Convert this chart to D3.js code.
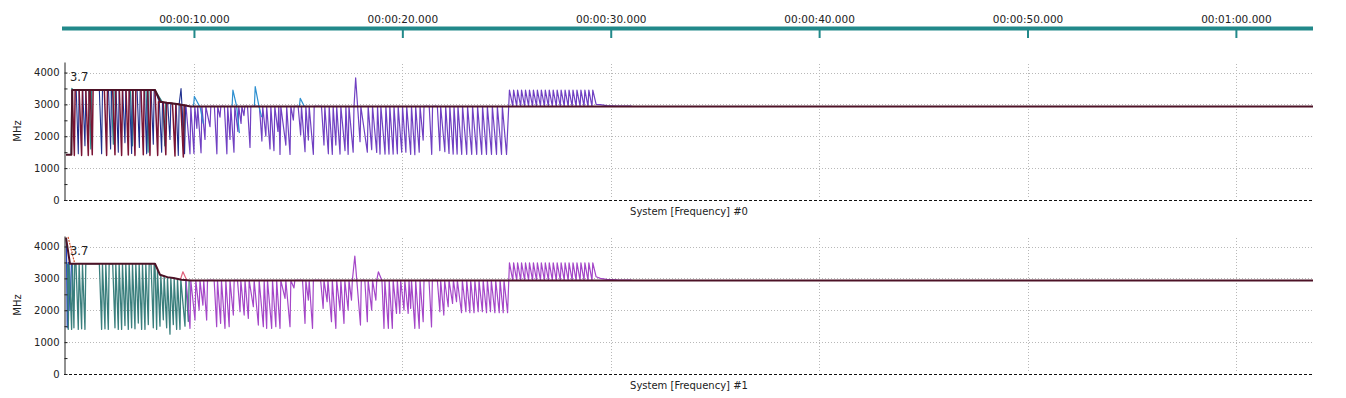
<!DOCTYPE html>
<html lang="en">
<head>
<meta charset="utf-8">
<script src="https://cdn.jsdelivr.net/npm/d3@7"></script>
<style>
  body { margin: 0; background: #fff; }
  text { font-family: "DejaVu Sans", Tahoma, sans-serif; fill: #222; }
</style>
</head>
<body>
<script>

// time range of the recording (seconds) and axis ticks
var tStart = 3.86, tEnd = 63.7;
var timeTicks = [10, 20, 30, 40, 50, 60];
var freqTicks = [0, 500, 1000, 1500, 2000, 2500, 3000, 3500, 4000];
var freqGrid = [1000, 2000, 3000, 4000];
var freqMax = 4330;
var startLabel = "3.7";
var unitLabel = "MHz";
var panelTitles = ["System [Frequency] #0", "System [Frequency] #1"];

// ---- panel #0 ----
var p0Max = [[3.86,1420],[4.12,1420],[4.16,3450],[8.13,3450],[8.40,3080],[8.70,3050],[9.10,3020],[9.45,2980],[9.85,2935],[63.70,2930]];

var p0Teal = [[4.10,1420],[4.14,3500],[4.20,3450],[4.95,3450],[5.05,1600],[5.09,3450],[6.03,3450],[6.13,1750],[6.17,3450],[6.95,3450],[7.05,1700],[7.09,3450],[7.70,3450],[7.80,1500],[7.84,3450],[8.13,3450],[8.50,3060],[8.60,1700],[8.64,3050],[9.40,2990],[9.52,1650],[9.56,2970]];

var p0Navy = [[4.35,3450],[4.45,1450],[4.49,3450],[4.66,3450],[4.77,1700],[4.81,3450],[5.46,3450],[5.57,1450],[5.61,3450],[5.90,3450],[6.00,1600],[6.04,3450],[6.26,3450],[6.37,1500],[6.41,3450],[6.58,3450],[6.69,1800],[6.73,3450],[6.90,3450],[7.01,1460],[7.05,3450],[7.27,3450],[7.38,1650],[7.42,3450],[7.62,3450],[7.73,1450],[7.77,3450],[7.94,3450],[8.05,1750],[8.09,3450],[8.13,3450],[8.34,3070],[8.45,1500],[8.49,3060],[8.74,3040],[8.85,1900],[8.89,3035],[9.14,3020],[9.25,1400],[9.29,3000],[9.38,3500],[9.55,1450],[9.60,2960]];

var p0Red = [[4.16,3450],[4.26,1400],[4.30,3450],[4.49,3450],[4.61,1400],[4.65,3450],[4.81,3450],[4.93,1400],[4.97,3450],[5.02,3450],[5.12,1420],[5.16,3450],[5.70,3450],[5.81,1400],[5.85,3450],[6.10,3450],[6.21,1420],[6.25,3450],[6.42,3450],[6.53,1400],[6.57,3450],[6.74,3450],[6.85,1410],[6.89,3450],[7.06,3450],[7.17,1400],[7.21,3450],[7.46,3450],[7.57,1420],[7.61,3450],[7.78,3450],[7.89,1400],[7.93,3450],[8.13,3450],[8.26,1400],[8.30,3080],[8.53,3060],[8.65,1420],[8.69,3050],[8.97,3030],[9.09,1380],[9.13,3020],[9.37,2990],[9.49,1350],[9.53,2980],[9.60,2970]];

var p0Purple = [[9.62,2935],[9.81,1450],[9.85,2935],[10.00,1460],[10.04,2935],[10.14,2250],[10.18,2935],[10.34,1480],[10.38,2935],[10.53,1900],[10.57,2935],[10.77,2300],[10.81,2935],[10.98,2935],[11.10,1450],[11.14,2935],[11.25,2600],[11.29,2935],[11.46,2935],[11.58,1450],[11.62,2935],[11.73,1900],[11.77,2935],[11.92,1500],[11.96,2935],[12.11,2150],[12.15,2935],[12.26,2400],[12.30,2935],[12.40,2650],[12.44,2935],[12.57,2935],[12.69,1650],[12.73,2935],[13.14,2935],[13.26,1850],[13.30,2935],[13.45,2000],[13.49,2935],[13.65,1600],[13.69,2935],[13.84,1550],[13.88,2935],[14.03,2150],[14.07,2935],[14.13,1430],[14.17,2935],[14.41,1724],[14.45,2935],[14.61,1430],[14.65,2935],[14.77,2508],[14.81,2935],[15.00,2935],[15.12,2038],[15.16,2935],[15.33,1515],[15.37,2935],[15.49,1881],[15.53,2935],[15.73,1432],[15.77,2935],[16.12,2935],[16.24,1724],[16.28,2935],[16.45,1450],[16.49,2935],[16.64,1432],[16.68,2935],[16.81,1724],[16.85,2935],[17.01,1440],[17.05,2935],[17.25,1550],[17.29,2935],[17.40,1432],[17.44,2935],[17.64,1500],[17.68,2935],[17.76,3830],[17.97,1830],[18.01,2935],[18.32,1500],[18.36,2935],[18.53,1580],[18.57,2935],[18.77,1490],[18.81,2935],[18.93,1440],[18.97,2935],[19.17,1440],[19.21,2935],[19.36,1440],[19.40,2935],[19.56,1440],[19.60,2935],[19.76,1450],[19.80,2935],[19.97,1500],[20.01,2935],[20.17,1500],[20.21,2935],[20.40,1432],[20.44,2935],[20.60,1420],[20.64,2935],[20.81,1500],[20.85,2935],[21.00,1880],[21.04,2935],[21.29,2935],[21.41,1432],[21.45,2935],[21.68,2935],[21.80,1550],[21.84,2935],[22.04,1515],[22.08,2935],[22.24,1460],[22.28,2935],[22.44,1440],[22.48,2935],[22.63,1440],[22.67,2935],[22.85,1432],[22.89,2935],[23.09,1432],[23.13,2935],[23.33,1432],[23.37,2935],[23.57,1432],[23.61,2935],[23.81,1432],[23.85,2935],[24.04,1432],[24.08,2935],[24.28,1432],[24.32,2935],[24.52,1432],[24.56,2935],[24.76,1432],[24.80,2935],[25.00,1432],
  [25.14,3450],[25.30,2935],[25.34,3450],[25.49,2935],[25.53,3450],[25.68,2935],[25.72,3450],[25.87,2935],[25.91,3450],[26.06,2935],[26.10,3450],[26.25,2935],[26.29,3450],[26.44,2935],[26.48,3450],[26.63,2935],[26.67,3450],[26.82,2935],[26.86,3450],[27.01,2935],[27.05,3450],[27.20,2935],[27.24,3450],[27.39,2935],[27.43,3450],[27.58,2935],[27.62,3450],[27.77,2935],[27.81,3450],[27.96,2935],[28.00,3450],[28.15,2935],[28.19,3450],[28.34,2935],[28.38,3450],[28.53,2935],[28.57,3450],[28.72,2935],[28.76,3450],[28.91,2935],[28.95,3450],[29.10,2935],[29.14,3450],[29.30,3000],[29.50,2990],[29.80,2960],[30.30,2950],[31.00,2945]];

var p0Blue = [[9.98,2935],[10.02,3250],[10.30,2900],[10.45,2400],null,
  [11.83,2935],[11.87,3450],[12.05,2935],[12.18,2100],null,
  [12.90,2935],[12.94,3560],[13.12,2935],[13.25,2600],null,
  [15.06,2935],[15.10,3190],[15.30,2935]];

// ---- panel #1 ----
var p1Max = [[3.86,4280],[4.05,3460],[8.13,3460],[8.37,3113],[8.72,3040],[9.01,3010],[9.40,2960],[9.85,2935],[63.70,2930]];

var p1Red = [[3.96,4300],[4.28,3460]];

var p1Blue = [[3.88,4200],[3.92,1450],[3.98,3500],[4.05,2000],[4.12,3450]];

var p1Teal = [[3.93,3460],[3.97,1400],[4.01,3460],[4.13,1400],[4.17,3460],[4.24,1450],[4.28,3460],[4.34,3460],[4.45,1400],[4.49,3460],[4.61,1420],[4.65,3460],[4.77,1400],[4.81,3460],[5.46,3460],[5.57,1400],[5.61,3460],[5.73,1420],[5.77,3460],[5.89,1400],[5.93,3460],[6.10,3460],[6.21,1450],[6.25,3460],[6.37,1400],[6.41,3460],[6.53,1400],[6.57,3460],[6.69,1520],[6.73,3460],[6.85,1400],[6.89,3460],[7.01,1450],[7.05,3460],[7.17,1420],[7.21,3460],[7.33,1600],[7.37,3460],[7.49,1400],[7.53,3460],[7.65,1400],[7.69,3460],[7.81,1550],[7.85,3460],[7.94,3460],[8.05,1450],[8.09,3460],[8.13,3460],[8.21,1400],[8.25,3250],[8.37,1500],[8.41,3100],[8.53,1700],[8.57,3080],[8.69,1450],[8.73,3040],[8.85,1250],[8.89,3020],[9.01,1550],[9.05,3010],[9.17,1400],[9.21,2990],[9.33,1400],[9.37,2970],[9.57,1500],[9.61,2950],[9.73,1650],[9.77,2940]];

var p1Purple = [[9.62,2935],[9.81,1432],[9.85,2935],[10.05,1693],[10.09,2935],[10.25,2006],[10.29,2935],[10.43,2163],[10.47,2935],[10.61,1693],[10.65,2935],[10.97,2935],[11.09,1484],[11.13,2935],[11.28,1589],[11.32,2935],[11.49,1432],[11.53,2935],[11.69,1484],[11.73,2935],[11.89,1850],[11.93,2935],[12.09,2935],[12.21,1954],[12.25,2935],[12.41,1850],[12.45,2935],[12.61,1745],[12.65,2935],[12.85,2110],[12.89,2935],[13.09,1536],[13.13,2935],[13.33,1484],[13.37,2935],[13.49,1432],[13.53,2935],[13.73,1432],[13.77,2935],[13.93,1484],[13.97,2935],[14.13,1432],[14.17,2935],[14.37,2373],[14.41,2935],[14.61,1483],[14.65,2935],[14.80,2700],[14.84,2935],[15.21,2935],[15.33,1589],[15.37,2935],[15.49,2320],[15.53,2935],[15.69,1432],[15.73,2935],[16.08,2935],[16.20,2060],[16.24,2935],[16.39,2267],[16.43,2935],[16.60,1640],[16.64,2935],[16.81,1432],[16.85,2935],[17.01,2006],[17.05,2935],[17.20,1589],[17.24,2935],[17.40,2006],[17.44,2935],[17.56,2320],[17.60,2935],[17.72,3700],[17.99,1536],[18.03,2935],[18.20,2935],[18.32,1640],[18.36,2935],[18.53,2006],[18.57,2935],[18.73,2320],[18.77,2935],[18.85,3207],[19.02,2935],[19.12,1432],[19.16,2935],[19.33,1432],[19.37,2935],[19.52,1432],[19.56,2935],[19.72,1902],[19.76,2935],[19.88,1902],[19.92,2935],[20.08,2006],[20.12,2935],[20.28,1902],[20.32,2935],[20.40,2060],[20.44,2935],[20.60,1432],[20.64,2935],[20.81,1432],[20.85,2935],[21.00,1640],[21.04,2935],[21.28,2935],[21.40,1474],[21.44,2935],[21.68,2935],[21.80,1954],[21.84,2935],[21.99,1850],[22.03,2935],[22.20,2110],[22.24,2935],[22.41,2215],[22.45,2935],[22.60,2267],[22.64,2935],[22.84,1922],[22.88,2935],[23.05,1954],[23.09,2935],[23.24,1922],[23.28,2935],[23.44,1922],[23.48,2935],[23.64,1954],[23.68,2935],[23.84,1954],[23.88,2935],[24.04,1922],[24.08,2935],[24.23,1954],[24.27,2935],[24.44,1922],[24.48,2935],[24.65,1922],[24.69,2935],[24.84,1922],[24.88,2935],[25.05,1922],
  [25.14,3490],[25.30,2935],[25.34,3490],[25.49,2935],[25.53,3490],[25.68,2935],[25.72,3490],[25.87,2935],[25.91,3490],[26.06,2935],[26.10,3490],[26.25,2935],[26.29,3490],[26.44,2935],[26.48,3490],[26.63,2935],[26.67,3490],[26.82,2935],[26.86,3490],[27.01,2935],[27.05,3490],[27.20,2935],[27.24,3490],[27.39,2935],[27.43,3490],[27.58,2935],[27.62,3490],[27.77,2935],[27.81,3490],[27.96,2935],[28.00,3490],[28.15,2935],[28.19,3490],[28.34,2935],[28.38,3490],[28.53,2935],[28.57,3490],[28.72,2935],[28.76,3490],[28.91,2935],[28.95,3490],[29.10,2935],[29.14,3490],[29.30,3050],[29.50,3000],[29.80,2970],[30.30,2955],[31.00,2945]];

var p1Pink = [[9.35,2960],[9.47,3207],[9.65,2950]];

var panels = [
  { top: 62, title: panelTitles[0], series: [
      { data: p0Teal,   color: "#2b8a8c", width: 1.2 },
      { data: p0Navy,   color: "#1f2f8f", width: 1.1 },
      { data: p0Red,    color: "#7a1434", width: 1.5 },
      { data: p0Purple, color: "#7040c2", width: 1.2 },
      { data: p0Blue,   color: "#2c8fd0", width: 1.2 },
      { data: p0Max,    color: "#4d1226", width: 2 } ] },
  { top: 236, title: panelTitles[1], series: [
      { data: p1Blue,   color: "#2040c0", width: 1.2 },
      { data: p1Teal,   color: "#3a7f7d", width: 1.3 },
      { data: p1Purple, color: "#a446c8", width: 1.2 },
      { data: p1Pink,   color: "#e0607a", width: 1.2 },
      { data: p1Red,    color: "#d2542c", width: 1.2, dash: "2,1" },
      { data: p1Max,    color: "#4d1226", width: 2 } ] }
];

var w = 1346, h = 398;
var plotH = 138;

var svg = d3.select("body").append("svg")
  .attr("width", w)
  .attr("height", h);

var x = d3.scaleLinear().domain([tStart, tEnd]).range([66, 1313]);

function pad2(n) { return (n < 10 ? "0" : "") + n; }
function fmtTime(s) {
  var m = Math.floor(s / 60);
  return "00:" + pad2(m) + ":" + pad2(s - m * 60) + ".000";
}

// top time ruler
svg.append("line")
  .attr("x1", 62).attr("x2", 1313)
  .attr("y1", 28.5).attr("y2", 28.5)
  .attr("stroke", "#22898a")
  .attr("stroke-width", 4);

var ruler = svg.append("g")
  .attr("transform", "translate(0,29)")
  .call(d3.axisBottom(x).tickValues(timeTicks).tickSize(9).tickFormat(fmtTime));
ruler.select(".domain").remove();
ruler.selectAll("line").attr("stroke", "#22898a").attr("stroke-width", 2);
ruler.selectAll("text")
  .attr("y", -6)
  .attr("dy", 0)
  .style("font-size", "10.5px")
  .style("font-family", "'DejaVu Sans', Tahoma, sans-serif")
  .attr("fill", "#222");

panels.forEach(function(p) {
  var y = d3.scaleLinear().domain([0, freqMax]).range([p.top + plotH, p.top]);
  var g = svg.append("g");

  // dotted grid
  g.selectAll(".hgrid")
    .data(freqGrid)
    .enter()
    .append("line")
    .attr("x1", 66).attr("x2", 1313)
    .attr("y1", function(d) { return Math.round(y(d)) + 0.5; })
    .attr("y2", function(d) { return Math.round(y(d)) + 0.5; })
    .attr("stroke", "#b8b8b8")
    .attr("stroke-dasharray", "1,2");

  g.selectAll(".vgrid")
    .data(timeTicks)
    .enter()
    .append("line")
    .attr("x1", function(d) { return Math.round(x(d)) + 0.5; })
    .attr("x2", function(d) { return Math.round(x(d)) + 0.5; })
    .attr("y1", p.top + 2).attr("y2", p.top + plotH - 2)
    .attr("stroke", "#b8b8b8")
    .attr("stroke-dasharray", "1,2");

  // baseline
  g.append("line")
    .attr("x1", 64).attr("x2", 1313)
    .attr("y1", y(0) + 0.5).attr("y2", y(0) + 0.5)
    .attr("stroke", "#111")
    .attr("stroke-dasharray", "3,2");

  // series
  var line = d3.line()
    .defined(function(d) { return d != null; })
    .x(function(d) { return x(d[0]); })
    .y(function(d) { return y(d[1]); });

  p.series.forEach(function(s) {
    g.append("path")
      .attr("d", line(s.data))
      .attr("fill", "none")
      .attr("stroke", s.color)
      .attr("stroke-width", s.width)
      .attr("stroke-linejoin", "round")
      .attr("stroke-dasharray", s.dash || null);
  });

  // y axis
  var yAxis = g.append("g")
    .attr("transform", "translate(64.5,0)")
    .call(d3.axisLeft(y).tickValues(freqTicks).tickSize(-3).tickSizeOuter(0).tickPadding(5)
      .tickFormat(function(d) { return d % 1000 == 0 ? d : ""; }));
  yAxis.select(".domain").attr("stroke", "#222");
  yAxis.selectAll("line").attr("stroke", "#222");
  yAxis.selectAll("text")
    .style("font-size", "10px")
    .style("font-family", "'DejaVu Sans', Tahoma, sans-serif")
    .attr("fill", "#222");

  g.append("text")
    .attr("transform", "translate(21," + (p.top + plotH / 2) + ") rotate(-90)")
    .attr("text-anchor", "middle")
    .style("font-size", "10px")
    .text(unitLabel);

  g.append("text")
    .attr("x", 70).attr("y", p.top + 19)
    .style("font-size", "11.5px")
    .text(startLabel);

  g.append("text")
    .attr("x", 689).attr("y", p.top + plotH + 15)
    .attr("text-anchor", "middle")
    .style("font-size", "10px")
    .text(p.title);
});

</script>
</body>
</html>
